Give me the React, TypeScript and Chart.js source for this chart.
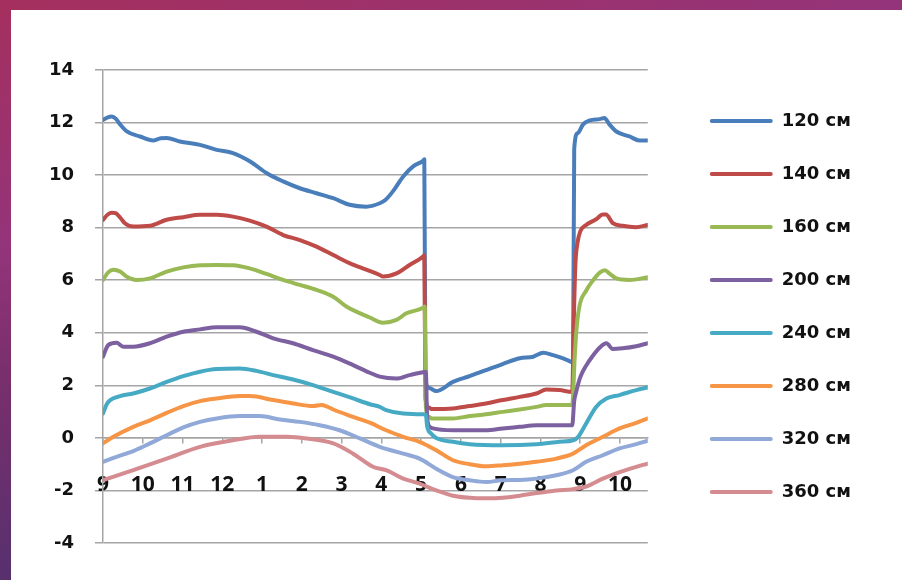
import { useEffect, useRef } from 'react';
import { Chart, registerables } from 'chart.js';

Chart.register(...registerables);

// Clock labels for each hour from the start of the record (hour 0 = 9 o'clock)
const hourLabels = ['9', '10', '11', '12', '1', '2', '3', '4', '5', '6', '7', '8', '9', '10'];

// Depth of each sensor
const depthLabels = ['120 см', '140 см', '160 см', '200 см', '240 см', '280 см', '320 см', '360 см'];

const seriesColors = ['#4A7EBB', '#BE4B48', '#98B954', '#7D60A0', '#46AAC5', '#F69545', '#90A9D8', '#D58C90'];

const Y_MIN = -4;
const Y_MAX = 14;
const Y_STEP = 2;
const T_MAX = 13.7;

// [hours since 9 o'clock, value]
const s120: [number, number][] = [
  [0, 12.1], [0.12, 12.2], [0.22, 12.23], [0.32, 12.15], [0.42, 11.95], [0.6, 11.66], [0.93, 11.47],
  [1.26, 11.32], [1.45, 11.4], [1.6, 11.41], [1.93, 11.28], [2.44, 11.15], [2.86, 10.96], [3.27, 10.84],
  [3.7, 10.52], [4.11, 10.08], [4.53, 9.76], [4.95, 9.5], [5.37, 9.31], [5.79, 9.12], [6.2, 8.87],
  [6.62, 8.8], [6.96, 8.93], [7.1, 9.05], [7.29, 9.38], [7.55, 9.95], [7.8, 10.33], [8.05, 10.55],
  [8.08, 10.6], [8.11, 2.2], [8.2, 1.9], [8.38, 1.78], [8.8, 2.13], [9.22, 2.35], [9.63, 2.58],
  [10.05, 2.81], [10.48, 3.03], [10.82, 3.09], [11.07, 3.24], [11.32, 3.15], [11.57, 3.03], [11.79, 2.88],
  [11.82, 2.85], [11.85, 11.0], [11.94, 11.6], [12.07, 11.92], [12.24, 12.08], [12.49, 12.13],
  [12.61, 12.17], [12.74, 11.92], [12.91, 11.66], [13.24, 11.47], [13.49, 11.32], [13.7, 11.32],
];

const s140: [number, number][] = [
  [0, 8.3], [0.12, 8.5], [0.22, 8.57], [0.32, 8.55], [0.45, 8.35], [0.55, 8.17], [0.76, 8.04],
  [1.18, 8.07], [1.6, 8.3], [2.02, 8.4], [2.44, 8.49], [2.86, 8.49], [3.27, 8.42], [3.69, 8.27],
  [4.11, 8.04], [4.53, 7.72], [4.95, 7.53], [5.37, 7.28], [5.79, 6.96], [6.2, 6.65], [6.62, 6.4],
  [6.96, 6.2], [7.04, 6.14], [7.38, 6.26], [7.71, 6.58], [8.05, 6.9], [8.08, 6.95], [8.11, 1.5],
  [8.2, 1.15], [8.26, 1.1], [8.8, 1.12], [9.22, 1.21], [9.63, 1.31], [10.05, 1.44], [10.48, 1.56],
  [10.9, 1.69], [11.15, 1.84], [11.48, 1.82], [11.8, 1.75], [11.84, 4.5], [11.88, 6.6], [11.93, 7.4],
  [12.0, 7.85], [12.15, 8.1], [12.4, 8.32], [12.57, 8.5], [12.65, 8.5], [12.82, 8.17], [13.07, 8.07],
  [13.4, 8.02], [13.7, 8.1],
];

const s160: [number, number][] = [
  [0, 6.01], [0.13, 6.3], [0.26, 6.4], [0.43, 6.33], [0.59, 6.14], [0.84, 6.01], [1.18, 6.07],
  [1.6, 6.33], [2.02, 6.49], [2.44, 6.57], [2.86, 6.58], [3.27, 6.57], [3.69, 6.45], [4.11, 6.24],
  [4.53, 6.01], [4.95, 5.82], [5.37, 5.63], [5.79, 5.37], [6.12, 5.0], [6.71, 4.58], [7.04, 4.38],
  [7.38, 4.49], [7.63, 4.74], [8.05, 4.95], [8.09, 5.0], [8.12, 1.2], [8.2, 0.8], [8.26, 0.74],
  [8.8, 0.74], [9.22, 0.83], [9.63, 0.9], [10.05, 0.99], [10.48, 1.08], [10.9, 1.18], [11.15, 1.25],
  [11.8, 1.25], [11.86, 3.0], [11.9, 4.0], [11.98, 5.0], [12.15, 5.6], [12.3, 5.95], [12.5, 6.3],
  [12.62, 6.38], [12.74, 6.25], [12.91, 6.07], [13.24, 6.01], [13.7, 6.11],
];

const s200: [number, number][] = [
  [0, 3.09], [0.13, 3.53], [0.34, 3.62], [0.51, 3.47], [0.76, 3.47], [1.18, 3.6], [1.6, 3.85],
  [2.02, 4.04], [2.44, 4.13], [2.86, 4.21], [3.44, 4.21], [3.86, 4.04], [4.28, 3.79], [4.78, 3.6],
  [5.28, 3.34], [5.79, 3.09], [6.29, 2.77], [6.71, 2.48], [6.96, 2.33], [7.38, 2.26], [7.71, 2.39],
  [8.05, 2.5], [8.12, 2.52], [8.15, 0.8], [8.22, 0.42], [8.3, 0.36], [8.8, 0.29], [9.63, 0.29],
  [10.05, 0.36], [10.48, 0.42], [10.9, 0.48], [11.8, 0.48], [11.85, 1.4], [11.9, 1.75], [12.0, 2.3],
  [12.15, 2.75], [12.3, 3.09], [12.5, 3.45], [12.66, 3.6], [12.82, 3.38], [13.07, 3.41], [13.41, 3.49],
  [13.7, 3.6],
];

const s240: [number, number][] = [
  [0, 0.93], [0.1, 1.3], [0.18, 1.44], [0.43, 1.59], [0.76, 1.69], [1.18, 1.88], [1.6, 2.13],
  [2.02, 2.35], [2.44, 2.52], [2.86, 2.62], [3.44, 2.64], [3.86, 2.55], [4.28, 2.39], [4.78, 2.22],
  [5.28, 2.01], [5.79, 1.75], [6.29, 1.5], [6.71, 1.28], [6.96, 1.18], [7.12, 1.06], [7.55, 0.93],
  [8.05, 0.9], [8.12, 0.88], [8.15, 0.45], [8.25, 0.17], [8.38, 0.0], [8.8, -0.15], [9.22, -0.24],
  [10.05, -0.28], [10.9, -0.24], [11.48, -0.15], [11.82, -0.09], [11.95, 0.04], [12.15, 0.55],
  [12.4, 1.18], [12.66, 1.5], [12.99, 1.63], [13.41, 1.82], [13.7, 1.92],
];

const s280: [number, number][] = [
  [0, -0.21], [0.26, 0.04], [0.76, 0.42], [1.18, 0.67], [1.6, 0.95], [2.02, 1.21], [2.44, 1.4],
  [2.86, 1.5], [3.44, 1.59], [3.69, 1.59], [4.28, 1.44], [4.78, 1.31], [5.28, 1.21], [5.5, 1.25],
  [5.62, 1.2], [5.79, 1.08], [6.29, 0.8], [6.71, 0.58], [7.12, 0.29], [7.55, 0.04], [7.96, -0.15],
  [8.38, -0.47], [8.8, -0.85], [9.22, -1.0], [9.63, -1.08], [10.05, -1.04], [10.48, -0.98],
  [10.9, -0.91], [11.4, -0.79], [11.82, -0.6], [12.15, -0.28], [12.57, 0.04], [12.99, 0.36],
  [13.41, 0.57], [13.7, 0.74],
];

const s320: [number, number][] = [
  [0, -0.91], [0.34, -0.72], [0.76, -0.5], [1.18, -0.21], [1.6, 0.1], [2.02, 0.4], [2.44, 0.61],
  [2.86, 0.74], [3.44, 0.83], [3.94, 0.83], [4.45, 0.7], [4.95, 0.61], [5.45, 0.48], [5.95, 0.29],
  [6.46, -0.02], [6.96, -0.34], [7.55, -0.6], [7.96, -0.79], [8.38, -1.17], [8.8, -1.49],
  [9.22, -1.61], [9.63, -1.68], [10.05, -1.61], [10.48, -1.6], [10.9, -1.55], [11.4, -1.42],
  [11.82, -1.23], [12.15, -0.91], [12.57, -0.66], [12.99, -0.4], [13.41, -0.24], [13.7, -0.11],
];

const s360: [number, number][] = [
  [0, -1.61], [0.76, -1.23], [1.6, -0.79], [2.44, -0.34], [3.27, -0.09], [3.94, 0.04], [4.62, 0.04],
  [5.12, -0.02], [5.79, -0.21], [6.29, -0.6], [6.79, -1.1], [7.12, -1.23], [7.55, -1.55],
  [7.96, -1.74], [8.38, -2.0], [8.8, -2.2], [9.22, -2.28], [9.63, -2.3], [10.05, -2.28],
  [10.48, -2.2], [10.9, -2.1], [11.4, -2.0], [11.82, -1.95], [12.15, -1.85], [12.57, -1.55],
  [12.99, -1.3], [13.41, -1.1], [13.7, -0.98],
];

const allSeries = [s120, s140, s160, s200, s240, s280, s320, s360];

const GRID = '#A5A5A5';
const INK = '#111111';

export default function App() {
  const canvasRef = useRef<HTMLCanvasElement | null>(null);

  useEffect(() => {
    const canvas = canvasRef.current;
    if (!canvas) return;

    const datasets = allSeries.map((pts, i) => ({
      label: depthLabels[i],
      data: pts.map(([x, y]) => ({ x, y })),
      borderColor: seriesColors[i],
      backgroundColor: seriesColors[i],
      borderWidth: 4,
      borderCapStyle: 'round' as const,
      borderJoinStyle: 'round' as const,
      pointRadius: 0,
      cubicInterpolationMode: 'monotone' as const,
      fill: false,
      // later sensors are painted over earlier ones
      order: allSeries.length - i,
    }));

    const chart = new Chart(canvas, {
      type: 'line',
      data: { datasets },
      options: {
        responsive: false,
        animation: false,
        devicePixelRatio: 1,
        layout: { padding: { top: 60, bottom: 37, left: 0, right: 41 } },
        plugins: {
          tooltip: { enabled: false },
          legend: {
            position: 'right',
            maxWidth: 400,
            labels: {
              boxWidth: 63,
              boxHeight: 4,
              padding: 35,
              color: INK,
              useBorderRadius: true,
              borderRadius: 2,
              font: { family: 'DejaVu Sans', weight: 'bold', size: 18 },
              sort: (a: any, b: any) => a.datasetIndex - b.datasetIndex,
              generateLabels: (c: any) =>
                Chart.defaults.plugins.legend.labels.generateLabels(c).map((item: any) => ({
                  ...item,
                  fillStyle: item.strokeStyle,
                  lineWidth: 0,
                })),
            },
          },
        },
        scales: {
          x: {
            type: 'linear',
            position: { y: 0 } as any,
            min: 0,
            max: T_MAX,
            ticks: {
              stepSize: 1,
              autoSkip: false,
              includeBounds: false,
              maxRotation: 0,
              padding: 30,
              color: INK,
              font: { family: 'Open Sans', weight: 'bold', size: 21 },
              callback: (v: any) => {
                const n = Number(v);
                return Number.isInteger(n) && hourLabels[n] !== undefined ? hourLabels[n] : '';
              },
            },
            grid: { drawOnChartArea: false, drawTicks: true, tickLength: 5, color: GRID, lineWidth: 1.5 },
            border: { display: true, color: GRID, width: 1.5 },
          },
          y: {
            type: 'linear',
            position: 'left',
            min: Y_MIN,
            max: Y_MAX,
            afterFit: (s: any) => { s.width = 92; },
            ticks: {
              stepSize: Y_STEP,
              padding: 21,
              color: INK,
              font: { family: 'DejaVu Sans', weight: 'bold', size: 18 },
            },
            grid: { color: GRID, lineWidth: 1.5, tickLength: 8, drawTicks: true },
            border: { display: true, color: GRID, width: 1.5 },
          },
          gap: {
            type: 'linear',
            position: 'right',
            display: true,
            afterFit: (s: any) => { s.width = 27; },
            ticks: { display: false },
            grid: { display: false, drawTicks: false },
            border: { display: false },
          },
        },
      },
    });

    return () => chart.destroy();
  }, []);

  return (
    <div
      style={{
        position: 'fixed',
        left: 0,
        top: 0,
        width: 902,
        height: 580,
        background:
          'linear-gradient(165deg, #A5305E 0%, #94347A 30%, #7A2F6C 45%, #58306E 70%, #4A2C68 100%)',
        overflow: 'hidden',
      }}
    >
      <div style={{ position: 'absolute', left: 11, top: 10, width: 891, height: 570, background: '#ffffff' }}>
        <canvas ref={canvasRef} width={891} height={570} style={{ display: 'block', width: 891, height: 570 }} />
      </div>
    </div>
  );
}
